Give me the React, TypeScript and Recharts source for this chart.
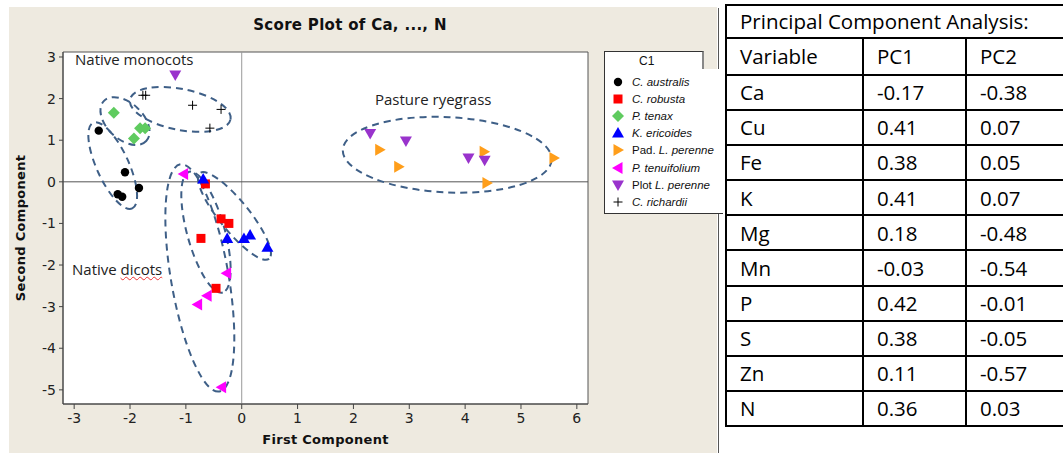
import React from 'react';
import { ScatterChart, Scatter, XAxis, YAxis, CartesianGrid, ReferenceLine, ReferenceArea } from 'recharts';

type Pt = { x: number; y: number };

// scores, one array per group
const cAustralis: Pt[] = [
  { x: -2.56, y: 1.23 }, { x: -2.09, y: 0.23 }, { x: -2.22, y: -0.3 }, { x: -2.14, y: -0.36 }, { x: -1.84, y: -0.15 },
];
const cRobusta: Pt[] = [
  { x: -0.65, y: -0.05 }, { x: -0.37, y: -0.89 }, { x: -0.23, y: -1.0 }, { x: -0.73, y: -1.36 }, { x: -0.46, y: -2.56 },
];
const pTenax: Pt[] = [
  { x: -2.29, y: 1.66 }, { x: -1.93, y: 1.04 }, { x: -1.82, y: 1.29 }, { x: -1.73, y: 1.29 },
];
const kEricoides: Pt[] = [
  { x: -0.69, y: 0.07 }, { x: -0.26, y: -1.36 }, { x: 0.04, y: -1.36 }, { x: 0.15, y: -1.28 }, { x: 0.46, y: -1.57 },
];
const padPerenne: Pt[] = [
  { x: 2.47, y: 0.77 }, { x: 2.81, y: 0.36 }, { x: 4.34, y: 0.72 }, { x: 5.59, y: 0.57 }, { x: 4.39, y: -0.03 },
];
const pTenuifolium: Pt[] = [
  { x: -1.04, y: 0.19 }, { x: -0.27, y: -2.2 }, { x: -0.62, y: -2.74 }, { x: -0.79, y: -2.95 }, { x: -0.36, y: -4.94 },
];
const plotPerenne: Pt[] = [
  { x: -1.19, y: 2.57 }, { x: 2.3, y: 1.16 }, { x: 2.94, y: 0.98 }, { x: 4.06, y: 0.57 }, { x: 4.35, y: 0.52 },
];
const cRichardii: Pt[] = [
  { x: -1.77, y: 2.08 }, { x: -1.72, y: 2.08 }, { x: -0.88, y: 1.84 }, { x: -0.37, y: 1.74 }, { x: -0.57, y: 1.29 },
];

const xTicks = [-3, -2, -1, 0, 1, 2, 3, 4, 5, 6];
const yTicks = [-5, -4, -3, -2, -1, 0, 1, 2, 3];
const xDomain = [-3.2, 6.2];
const yDomain = [-5.34, 3.12];

// group ellipses: centre, end of the long half-axis, short/long ratio
const ellipseCentres: Pt[] = [
  { x: -2.09, y: 1.46 }, { x: -2.31, y: 0.39 }, { x: -1.1, y: 1.74 }, { x: 3.68, y: 0.65 },
  { x: -0.75, y: -2.31 }, { x: -0.64, y: -1.21 }, { x: -0.13, y: -0.82 },
];
const ellipseEnds: Pt[] = [
  { x: -1.71, y: 0.98 }, { x: -1.96, y: -0.64 }, { x: -0.2, y: 1.5 }, { x: 5.55, y: 0.53 },
  { x: -0.4, y: -5.04 }, { x: -0.34, y: -2.66 }, { x: 0.49, y: -1.85 },
];
const ellipseRatios = [0.62, 0.34, 0.4, 0.36, 0.25, 0.3, 0.27];

const pcaVariables = ['Ca', 'Cu', 'Fe', 'K', 'Mg', 'Mn', 'P', 'S', 'Zn', 'N'];
const pc1 = ['-0.17', '0.41', '0.38', '0.41', '0.18', '-0.03', '0.42', '0.38', '0.11', '0.36'];
const pc2 = ['-0.38', '0.07', '0.05', '0.07', '-0.48', '-0.54', '-0.01', '-0.05', '-0.57', '0.03'];

type Kind = 'circle' | 'square' | 'diamond' | 'up' | 'right' | 'left' | 'down' | 'plus';

const groups: { name: string; prefix?: string; italic: string; kind: Kind; color: string; data: Pt[] }[] = [
  { name: 'C. australis', italic: 'C. australis', kind: 'circle', color: '#000000', data: cAustralis },
  { name: 'C. robusta', italic: 'C. robusta', kind: 'square', color: '#FF0000', data: cRobusta },
  { name: 'P. tenax', italic: 'P. tenax', kind: 'diamond', color: '#5FCB5F', data: pTenax },
  { name: 'K. ericoides', italic: 'K. ericoides', kind: 'up', color: '#0000FF', data: kEricoides },
  { name: 'Pad. L. perenne', prefix: 'Pad. ', italic: 'L. perenne', kind: 'right', color: '#FF9E1A', data: padPerenne },
  { name: 'P. tenuifolium', italic: 'P. tenuifolium', kind: 'left', color: '#FF00FF', data: pTenuifolium },
  { name: 'Plot L. perenne', prefix: 'Plot ', italic: 'L. perenne', kind: 'down', color: '#9933CC', data: plotPerenne },
  { name: 'C. richardii', italic: 'C. richardii', kind: 'plus', color: '#000000', data: cRichardii },
];

function marker(kind: Kind, cx: number, cy: number, color: string) {
  switch (kind) {
    case 'circle':
      return <circle cx={cx} cy={cy} r={4.2} fill={color} />;
    case 'square':
      return <rect x={cx - 4.5} y={cy - 4.5} width={9} height={9} fill={color} />;
    case 'diamond':
      return <polygon points={`${cx},${cy - 6} ${cx + 6},${cy} ${cx},${cy + 6} ${cx - 6},${cy}`} fill={color} />;
    case 'up':
      return <polygon points={`${cx},${cy - 6} ${cx + 6},${cy + 4.5} ${cx - 6},${cy + 4.5}`} fill={color} />;
    case 'down':
      return <polygon points={`${cx - 6},${cy - 4.5} ${cx + 6},${cy - 4.5} ${cx},${cy + 6}`} fill={color} />;
    case 'right':
      return <polygon points={`${cx - 4.5},${cy - 6} ${cx + 6},${cy} ${cx - 4.5},${cy + 6}`} fill={color} />;
    case 'left':
      return <polygon points={`${cx + 4.5},${cy - 6} ${cx - 6},${cy} ${cx + 4.5},${cy + 6}`} fill={color} />;
    default:
      return (
        <path d={`M${cx - 4.5},${cy}H${cx + 4.5}M${cx},${cy - 4.5}V${cy + 4.5}`} stroke={color} strokeWidth={1} fill="none" />
      );
  }
}

const EllipseShape = (ratio: number) => (p: any) => {
  const dx = p.x2 - p.x1;
  const dy = p.y2 - p.y1;
  const rx = Math.hypot(dx, dy);
  const angle = (Math.atan2(dy, dx) * 180) / Math.PI;
  return (
    <ellipse
      cx={p.x1}
      cy={p.y1}
      rx={rx}
      ry={rx * ratio}
      transform={`rotate(${angle} ${p.x1} ${p.y1})`}
      fill="none"
      stroke="#3E5F87"
      strokeWidth={2}
      strokeDasharray="7 5"
    />
  );
};

const tahoma = "'DejaVu Sans', sans-serif";
const tickStyle = { fontSize: 14, fill: '#222', fontFamily: tahoma };
const calibri = "'Open Sans', 'Liberation Sans', sans-serif";
const cell = { border: '2px solid #000', padding: '0 0 0 13px' };

export default function App() {
  return (
    <div style={{ position: 'absolute', left: 0, top: 0, width: 1063, height: 453, background: '#fff', overflow: 'hidden' }}>
      <div style={{ position: 'absolute', left: 9, top: 7, width: 708, height: 446, background: '#EEEAE0' }} />
      <div style={{ position: 'absolute', left: 718, top: 8, width: 1, height: 445, background: '#555' }} />

      <div
        style={{
          position: 'absolute', left: 0, width: 700, top: 16, textAlign: 'center',
          fontFamily: tahoma, fontWeight: 'bold', fontSize: 15, color: '#111', letterSpacing: 0.3,
        }}
      >
        Score Plot of Ca, ..., N
      </div>

      <div style={{ position: 'absolute', left: 0, top: 0 }}>
        <ScatterChart width={720} height={453} margin={{ top: 52, right: 132, bottom: 19, left: 23 }}>
          <CartesianGrid fill="#fff" horizontal={false} vertical={false} />
          <XAxis
            type="number"
            dataKey="x"
            domain={xDomain}
            ticks={xTicks}
            allowDataOverflow
            height={30}
            tickSize={5}
            tickMargin={4}
            stroke="#444"
            tick={tickStyle}
          />
          <YAxis
            type="number"
            dataKey="y"
            domain={yDomain}
            ticks={yTicks}
            allowDataOverflow
            width={40}
            tickSize={4}
            tickMargin={3}
            stroke="#444"
            tick={tickStyle}
          />
          <ReferenceLine x={0} stroke="#999" strokeWidth={1} />
          <ReferenceLine y={0} stroke="#555" strokeWidth={1} />
          <ReferenceArea x1={xDomain[0]} x2={xDomain[1]} y1={yDomain[0]} y2={yDomain[1]} fill="none" stroke="#555" strokeOpacity={1} />
          {ellipseCentres.map((c, i) => (
            <ReferenceLine
              key={`ell-${i}`}
              segment={[c, ellipseEnds[i]]}
              shape={EllipseShape(ellipseRatios[i])}
              ifOverflow="visible"
            />
          ))}
          {groups.map((g) => (
            <Scatter
              key={g.name}
              name={g.name}
              data={g.data}
              isAnimationActive={false}
              shape={(p: any) => marker(g.kind, p.cx, p.cy, g.color)}
            />
          ))}
        </ScatterChart>
      </div>

      {/* group notes */}
      <div style={{ position: 'absolute', left: 75, top: 49, fontFamily: calibri, fontSize: 15, color: '#222' }}>Native monocots</div>
      <div style={{ position: 'absolute', left: 375, top: 89, fontFamily: calibri, fontSize: 15, color: '#222' }}>Pasture ryegrass</div>
      <div style={{ position: 'absolute', left: 72, top: 259, fontFamily: calibri, fontSize: 15, color: '#222' }}>
        Native <span style={{ textDecoration: 'underline wavy #e33', textDecorationThickness: 1 }}>dicots</span>
      </div>

      {/* axis titles */}
      <div
        style={{
          position: 'absolute', left: 63, width: 525, top: 432, textAlign: 'center',
          fontFamily: tahoma, fontWeight: 'bold', fontSize: 13, color: '#111', letterSpacing: 0.3,
        }}
      >
        First Component
      </div>
      <div
        style={{
          position: 'absolute', left: 20, top: 228, width: 200, marginLeft: -100, textAlign: 'center',
          transform: 'translateY(-50%) rotate(-90deg)',
          fontFamily: tahoma, fontWeight: 'bold', fontSize: 13, color: '#111', letterSpacing: 0.3,
        }}
      >
        Second Component
      </div>

      {/* legend */}
      <div style={{ position: 'absolute', left: 604, top: 69, width: 118, height: 144, background: '#fff', borderLeft: '1px solid #333', borderBottom: '1px solid #333' }} />
      <div
        style={{
          position: 'absolute', left: 604, top: 51, width: 100, height: 18, background: '#fff',
          border: '1px solid #333', borderRight: '2px solid #888', borderBottom: 'none', boxSizing: 'border-box',
          fontFamily: "'Liberation Sans', sans-serif", fontSize: 12, color: '#111', paddingLeft: 34, paddingTop: 2,
        }}
      >
        C1
      </div>
      {groups.map((g, i) => (
        <div key={g.name} style={{ position: 'absolute', left: 610, top: 74 + i * 17.1, height: 16, display: 'flex', alignItems: 'center' }}>
          <svg width={16} height={16} style={{ display: 'block' }}>
            {marker(g.kind, 8, 8, g.color)}
          </svg>
          <span style={{ marginLeft: 6, fontFamily: "'Liberation Sans', sans-serif", fontSize: 11.5, color: '#111', whiteSpace: 'nowrap' }}>
            {g.prefix}
            <i>{g.italic}</i>
          </span>
        </div>
      ))}

      {/* loadings table */}
      <table
        style={{
          position: 'absolute', left: 725, top: 4, borderCollapse: 'collapse', fontFamily: calibri, fontSize: 20.5,
          color: '#000', tableLayout: 'fixed', width: 342, lineHeight: 1,
        }}
      >
        <colgroup>
          <col style={{ width: 137 }} />
          <col style={{ width: 103 }} />
          <col style={{ width: 102 }} />
        </colgroup>
        <tbody>
          <tr style={{ height: 33 }}>
            <td colSpan={3} style={{ ...cell, whiteSpace: 'nowrap' }}>Principal Component Analysis:</td>
          </tr>
          <tr style={{ height: 37 }}>
            {['Variable', 'PC1', 'PC2'].map((h) => (
              <td key={h} style={cell}>{h}</td>
            ))}
          </tr>
          {pcaVariables.map((v, i) => (
            <tr key={v} style={{ height: 35.1 }}>
              <td style={cell}>{v}</td>
              <td style={cell}>{pc1[i]}</td>
              <td style={cell}>{pc2[i]}</td>
            </tr>
          ))}
        </tbody>
      </table>
    </div>
  );
}
